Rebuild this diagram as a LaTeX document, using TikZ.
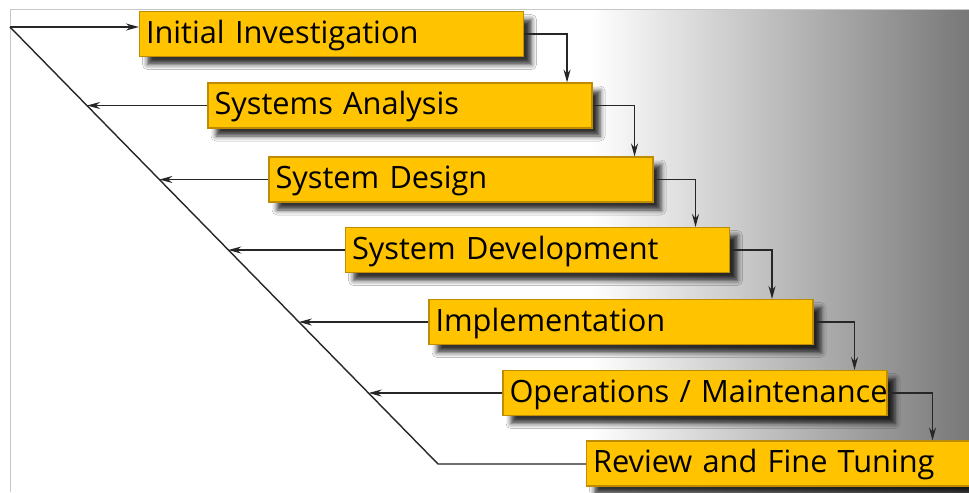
\documentclass[tikz,border=0pt]{standalone}
\usepackage{fontspec}
\setmainfont{Open Sans}
\usetikzlibrary{calc,arrows.meta,shadows.blur}
\definecolor{stagegold}{RGB}{255,195,0}
\definecolor{stageedge}{RGB}{190,140,0}
\tikzset{
    stage/.style={draw=stageedge, fill=stagegold, line width=0.6pt,
        text width=7.42cm, inner xsep=0.13cm, minimum height=0.9cm, align=left,
        text height=0.5cm, text depth=0.14cm,
        font=\fontsize{17.5}{20}\selectfont,
        blur shadow={shadow xshift=0.16cm, shadow yshift=-0.16cm,
            shadow blur radius=0.1cm, shadow opacity=80}},
    flow/.style={draw=black!85, line width=0.8pt, -{Stealth[length=0.26cm, width=0.14cm]}}
}
\begin{document}
\begin{tikzpicture}
    \useasboundingbox (0, 0) rectangle (19.38, -9.84);
    \fill[white] (0.2, -0.18) rectangle (11.8, -9.84);
    \shade[left color=white, right color=black!53] (11.8, -0.18) rectangle (19.38, -9.84);
    \draw[black!22] (0.2, -9.84) -- (0.2, -0.18) -- (19.38, -0.18);

        \node[stage] (b1) at(6.63, -0.68){Initial Investigation};
        \node[stage] (b2) at(8.0, -2.11){Systems Analysis};
        \node[stage] (b3) at(9.22, -3.59){System Design};
        \node[stage] (b4) at(10.75, -5.0){System Development};
        \node[stage] (b5) at(12.42, -6.44){Implementation};
        \node[stage] (b6) at(13.9, -7.86){\mbox{Operations / Maintenance}};
        \node[stage] (b7) at(15.57, -9.27){Review and Fine Tuning};

    % the long return line
        \coordinate (top) at(0.2, -0.54);
        \coordinate (corner) at(8.76, -9.28);
        \draw[black!85, line width=0.8pt] (top) -- (corner) -- (b7.west |- corner);
        \draw[flow] (top) -- (top -| b1.west);

        \coordinate (d2) at($(top)!0.180!(corner)$);
        \coordinate (d3) at($(top)!0.349!(corner)$);
        \coordinate (d4) at($(top)!0.510!(corner)$);
        \coordinate (d5) at($(top)!0.675!(corner)$);
        \coordinate (d6) at($(top)!0.838!(corner)$);
        \draw[flow] (b2.west) -- (b2.west -| d2);
        \draw[flow] (b3.west) -- (b3.west -| d3);
        \draw[flow] (b4.west) -- (b4.west -| d4);
        \draw[flow] (b5.west) -- (b5.west -| d5);
        \draw[flow] (b6.west) -- (b6.west -| d6);

    % steps down on the right
        \coordinate (r1) at([xshift=0.86cm]b1.east);
        \coordinate (r2) at([xshift=0.84cm]b2.east);
        \coordinate (r3) at([xshift=0.84cm]b3.east);
        \coordinate (r4) at([xshift=0.84cm]b4.east);
        \coordinate (r5) at([xshift=0.82cm]b5.east);
        \coordinate (r6) at([xshift=0.9cm]b6.east);
        \draw[flow] (b1.east) -| (r1 |- b2.north);
        \draw[flow] (b2.east) -| (r2 |- b3.north);
        \draw[flow] (b3.east) -| (r3 |- b4.north);
        \draw[flow] (b4.east) -| (r4 |- b5.north);
        \draw[flow] (b5.east) -| (r5 |- b6.north);
        \draw[flow] (b6.east) -| (r6 |- b7.north);
\end{tikzpicture}
\end{document}
